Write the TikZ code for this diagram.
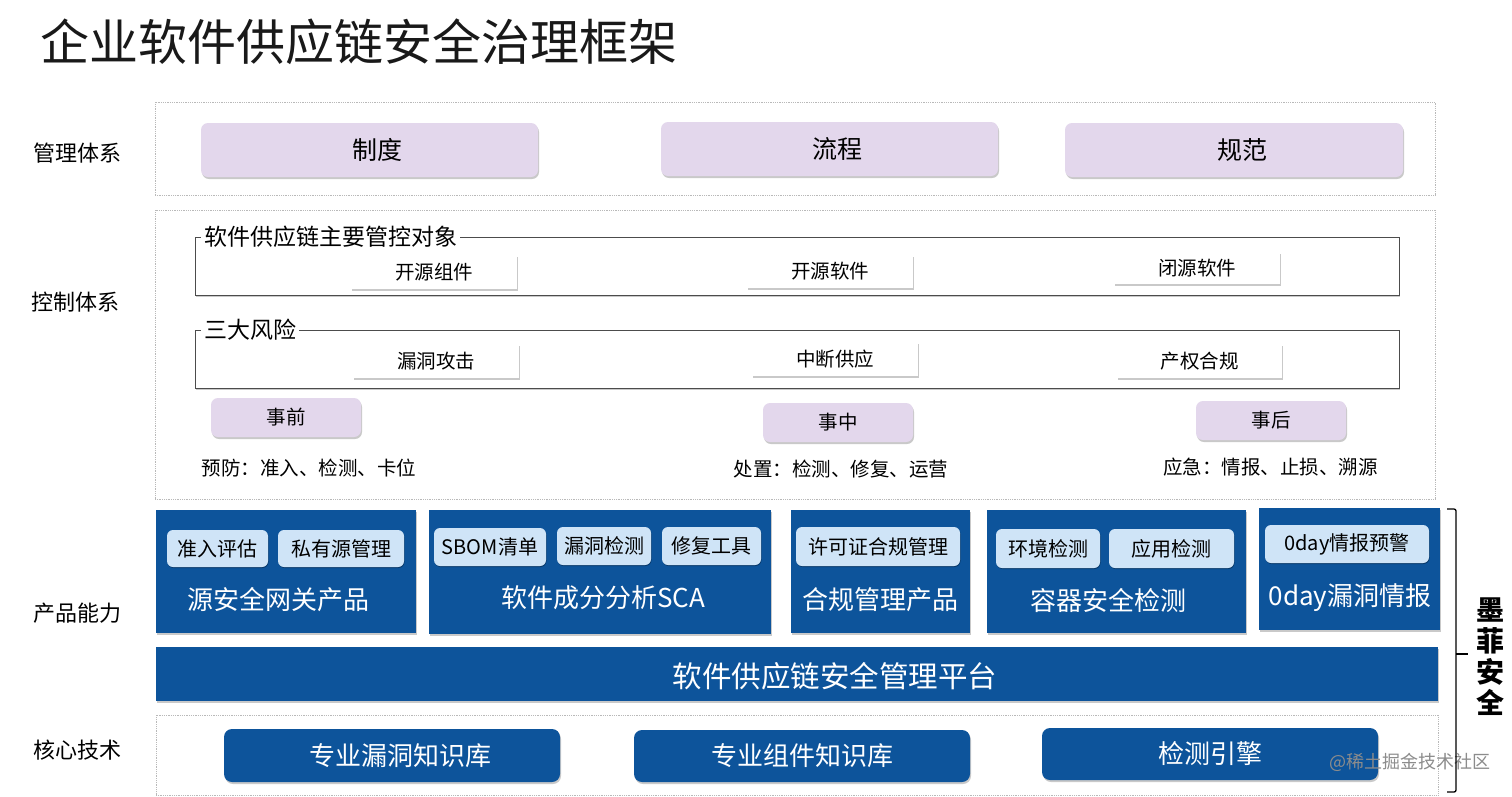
\documentclass[tikz,border=0pt]{standalone}
\usepackage{fontspec}
\setmainfont{Noto Sans CJK SC}
\usetikzlibrary{shadows}
\definecolor{dblue}{RGB}{13,84,155}
\definecolor{lblue}{RGB}{207,228,247}
\definecolor{lav}{RGB}{227,215,236}
\definecolor{panelgray}{RGB}{185,185,185}
\newcommand{\mysz}[1]{\fontsize{#1}{#1}\selectfont}
\tikzset{
  shd/.style={drop shadow={shadow xshift=1pt,shadow yshift=-2pt,opacity=0.35,fill=black!60}},
  panel/.style={draw=panelgray,densely dotted,line width=0.8pt},
  sidelabel/.style={font=\mysz{22},text=black},
  lavbox/.style={fill=lav,rounded corners=7pt,shd,inner sep=0pt},
  whitebox/.style={fill=white,shd,inner sep=0pt,font=\mysz{19.5}},
  grp/.style={draw=black!70,line width=0.8pt,fill=white,shd},
  grptitle/.style={fill=white,inner xsep=3pt,inner ysep=1pt,anchor=west,font=\mysz{23}},
  prod/.style={fill=dblue,shd,inner sep=0pt},
  chip/.style={fill=lblue,rounded corners=6pt,inner sep=0pt,font=\mysz{20},drop shadow={shadow xshift=0.5pt,shadow yshift=-1pt,opacity=0.3,fill=black}},
  prodlabel/.style={text=white,font=\mysz{26}},
  core/.style={fill=dblue,rounded corners=8pt,text=white,font=\mysz{26},shd,inner sep=0pt},
  desc/.style={font=\mysz{19.5}}
}
\begin{document}
\begin{tikzpicture}[x=1pt,y=-1pt]
\useasboundingbox[fill=white] (0,0) rectangle (1512,796);

% title
\node[anchor=west,inner sep=0pt,font=\mysz{49},text=black!90] (title) at (40,42) {企业软件供应链安全治理框架};

% side labels
\node[sidelabel] (l1) at (77,153) {管理体系};
\node[sidelabel] (l2) at (75,302) {控制体系};
\node[sidelabel] (l3) at (77,613) {产品能力};
\node[sidelabel] (l4) at (77,750) {核心技术};

% management panel
\node[panel,minimum width=1280pt,minimum height=93pt,inner sep=0pt] (mp) at (795,148.5) {};
\node[lavbox,minimum width=337pt,minimum height=54pt,font=\mysz{25}] (m1) at (369.5,150) {\hspace*{16pt}制度};
\node[lavbox,minimum width=337pt,minimum height=54pt,font=\mysz{25}] (m2) at (829.5,149) {\hspace*{16pt}流程};
\node[lavbox,minimum width=338pt,minimum height=54pt,font=\mysz{25}] (m3) at (1234,150) {\hspace*{16pt}规范};

% control panel
\node[panel,minimum width=1280pt,minimum height=289pt,inner sep=0pt] (cp) at (795,354.5) {};

\node[grp,minimum width=1204pt,minimum height=58pt,inner sep=0pt] (g1) at (797,266) {};
\node[grptitle] (g1t) at (201,237) {软件供应链主要管控对象};
\node[whitebox,minimum width=166pt,minimum height=34pt] (o1) at (434,272) {开源组件};
\node[whitebox,minimum width=166pt,minimum height=33pt] (o2) at (830,271.5) {开源软件};
\node[whitebox,minimum width=166pt,minimum height=32pt] (o3) at (1197,268) {闭源软件};

\node[grp,minimum width=1204pt,minimum height=58pt,inner sep=0pt] (g2) at (797,359) {};
\node[grptitle] (g2t) at (201,330) {三大风险};
\node[whitebox,minimum width=166pt,minimum height=34pt] (r1) at (436,361) {漏洞攻击};
\node[whitebox,minimum width=166pt,minimum height=34pt] (r2) at (835,359) {中断供应};
\node[whitebox,minimum width=165pt,minimum height=34pt] (r3) at (1199.5,361) {产权合规};

\node[lavbox,minimum width=150pt,minimum height=39pt,font=\mysz{19.5}] (e1) at (286,417.5) {事前};
\node[lavbox,minimum width=150pt,minimum height=39pt,font=\mysz{19.5}] (e2) at (838,422.5) {事中};
\node[lavbox,minimum width=150pt,minimum height=39pt,font=\mysz{19.5}] (e3) at (1271,420.5) {事后};
\node[desc] (d1) at (309,468) {预防：准入、检测、卡位};
\node[desc] (d2) at (841,469) {处置：检测、修复、运营};
\node[desc] (d3) at (1270.5,467) {应急：情报、止损、溯源};

% products
\node[prod,minimum width=260pt,minimum height=123pt] (pa) at (286,571.5) {};
\node[chip,minimum width=101pt,minimum height=37pt] (pa1) at (217.5,548.5) {准入评估};
\node[chip,minimum width=126pt,minimum height=37pt] (pa2) at (341,548.5) {私有源管理};
\node[prodlabel] (pal) at (278,600) {源安全网关产品};

\node[prod,minimum width=342pt,minimum height=124pt] (pb) at (600,572) {};
\node[chip,minimum width=112pt,minimum height=38pt] (pb1) at (490,547) {SBOM清单};
\node[chip,minimum width=94pt,minimum height=38pt] (pb2) at (604,546) {漏洞检测};
\node[chip,minimum width=99pt,minimum height=38pt] (pb3) at (711.5,546) {修复工具};
\node[prodlabel] (pbl) at (603,598) {软件成分分析SCA};

\node[prod,minimum width=179pt,minimum height=123pt] (pc) at (880.5,571.5) {};
\node[chip,minimum width=164pt,minimum height=39pt] (pc1) at (878,546.5) {许可证合规管理};
\node[prodlabel] (pcl) at (880,600) {合规管理产品};

\node[prod,minimum width=259pt,minimum height=123pt] (pd) at (1116.5,571.5) {};
\node[chip,minimum width=104pt,minimum height=39pt] (pd1) at (1048,548.5) {环境检测};
\node[chip,minimum width=125pt,minimum height=39pt] (pd2) at (1171.5,548.5) {应用检测};
\node[prodlabel] (pdl) at (1108,600) {容器安全检测};

\node[prod,minimum width=181pt,minimum height=122pt] (pe) at (1349.5,569) {};
\node[chip,minimum width=164pt,minimum height=38pt] (pe1) at (1347,544) {0day情报预警};
\node[prodlabel] (pel) at (1350,598) {0day漏洞情报};

% platform
\node[prod,minimum width=1282pt,minimum height=54pt] (plat) at (797,674) {};
\node[text=white,font=\mysz{29.5}] (platl) at (835,676) {软件供应链安全管理平台};

% core
\node[panel,minimum width=1282pt,minimum height=80pt,inner sep=0pt] (corep) at (797,755) {};
\node[core,minimum width=336pt,minimum height=53pt] (c1) at (392,755.5) {\hspace*{16pt}专业漏洞知识库};
\node[core,minimum width=336pt,minimum height=52pt] (c2) at (802,756) {专业组件知识库};
\node[core,minimum width=336pt,minimum height=52pt] (c3) at (1210,754) {检测引擎};

% watermark
\node[text=black!45,font=\mysz{18}] (wm) at (1410,762) {@稀土掘金技术社区};

% bracket
\coordinate (bt) at (1447,509);
\coordinate (bb) at (1447,792);
\coordinate (bm) at (1468,654);
\draw[line width=1.3pt,rounded corners=2pt] (bt) -- (1456,509) -- (1456,792) -- (bb);
\draw[line width=1.3pt] (1456,654) -- (bm);
\node[font=\mysz{28}\bfseries,align=center,inner sep=0pt] (brand) at (1490,657) {墨\\[3pt]菲\\[3pt]安\\[3pt]全};
\end{tikzpicture}
\end{document}
